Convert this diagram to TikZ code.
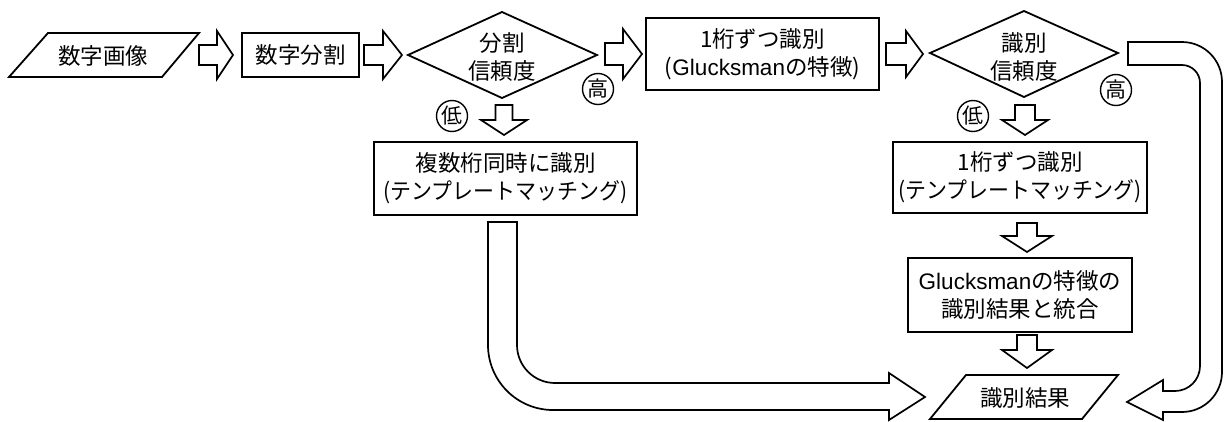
\documentclass[tikz,border=0pt]{standalone}
\usepackage{fontspec}
\newfontfamily\jp{Noto Sans CJK JP}
\newfontfamily\lat{Liberation Sans}
\newcommand{\G}{{\lat Glucksman}}
\newcommand{\kata}[1]{\scalebox{0.93}[1]{#1}}
\newcommand{\harr}[6]{\draw[blk] (#1,#4-#5) -- (#2,#4-#5) -- (#2,#4-#6) -- (#3,#4) -- (#2,#4+#6) -- (#2,#4+#5) -- (#1,#4+#5) -- cycle;}
\newcommand{\varr}[6]{\draw[blk] (#1-#5,#2) -- (#1+#5,#2) -- (#1+#5,#3) -- (#1+#6,#3) -- (#1,#4) -- (#1-#6,#3) -- (#1-#5,#3) -- (#1-#5,#2) -- cycle;}
\tikzset{
  boxn/.style={draw, line width=1.8pt, rectangle, inner sep=0pt, align=center, font=\jp\fontsize{22.5}{28}\selectfont},
  txt/.style={inner sep=0pt, align=center, font=\jp\fontsize{22.5}{28}\selectfont},
  blk/.style={draw, line width=1.7pt, fill=white, line join=miter},
  outl/.style={draw, line width=1.8pt, line join=miter},
  circn/.style={draw, circle, line width=1.4pt, minimum size=31pt, inner sep=0pt, font=\jp\fontsize{21}{21}\selectfont}
}
\begin{document}
\begin{tikzpicture}[x=1pt,y=-1pt]
\useasboundingbox (0,0) rectangle (1224,421);
% input parallelogram
\draw[outl] (9,77) -- (48,33) -- (199,33) -- (162,77) -- cycle;
\node[txt] (img) at (103,56) {数字画像};
% box digit split
\node[boxn, minimum width=117pt, minimum height=44pt] (split) at (300.5,55) {数字分割};
% diamond 1
\draw[outl] (408,55) -- (502,12) -- (597,55) -- (502,98) -- cycle;
\node[txt] (d1) at (502,57) {分割\\信頼度};
% box 3
\node[boxn, minimum width=233pt, minimum height=72pt] (one) at (762.5,54) {1桁ずつ識別\\({\lat Glucksman}の特徴)};
% diamond 2
\draw[outl] (930,53) -- (1024,11) -- (1118,53) -- (1024,97) -- cycle;
\node[txt] (d2) at (1024,57) {識別\\信頼度};
% circles
\node[circn] (lo1) at (452,116) {低};
\node[circn] (hi1) at (598,89) {高};
\node[circn] (lo2) at (973,116) {低};
\node[circn] (hi2) at (1116,90) {高};
% multi-digit box
\node[boxn, minimum width=263pt, minimum height=73pt] (multi) at (505.5,178.5) {複数桁同時に識別\\\kata{(テンプレートマッチング)}};
% right template box
\node[boxn, minimum width=254pt, minimum height=71pt] (tmpl) at (1020,177.5) {1桁ずつ識別\\\kata{(テンプレートマッチング)}};
% integrate box
\node[boxn, minimum width=224pt, minimum height=74pt] (integ) at (1020,295) {\G の特徴の\\識別結果と統合};
% output parallelogram
\draw[outl] (930,419) -- (966,375) -- (1118,375) -- (1082,419) -- cycle;
\node[txt] (res) at (1025,398) {識別結果};
% horizontal block arrows
\harr{199}{217}{233}{55}{10}{24}
\harr{364}{383}{402}{55}{10}{24}
\harr{605}{623}{642}{54}{11}{25}
\harr{886}{906}{923}{54}{11}{23}
% vertical block arrows
\varr{504}{105}{120}{135}{8.5}{23}
\varr{1025}{105}{120}{135}{10}{23}
\varr{1027}{223}{236}{252}{10}{25}
\varr{1027}{335}{350}{368}{10}{25}
% left U arrow
\draw[blk] (488,222) -- (517,222) -- (517,345) arc (180:90:38) -- (889,383) -- (889,373) -- (925,397) -- (889,420) -- (889,410) -- (553,410) arc (90:180:65) -- cycle;
% right U arrow
\draw[blk] (1128,42) -- (1182,42) arc (-90:0:40) -- (1222,372) arc (0:90:40) -- (1163,412) -- (1163,420) -- (1127,402) -- (1163,380) -- (1163,391) -- (1175,391) arc (90:0:25) -- (1200,83) arc (0:-90:18) -- (1128,65) -- cycle;
\end{tikzpicture}
\end{document}
